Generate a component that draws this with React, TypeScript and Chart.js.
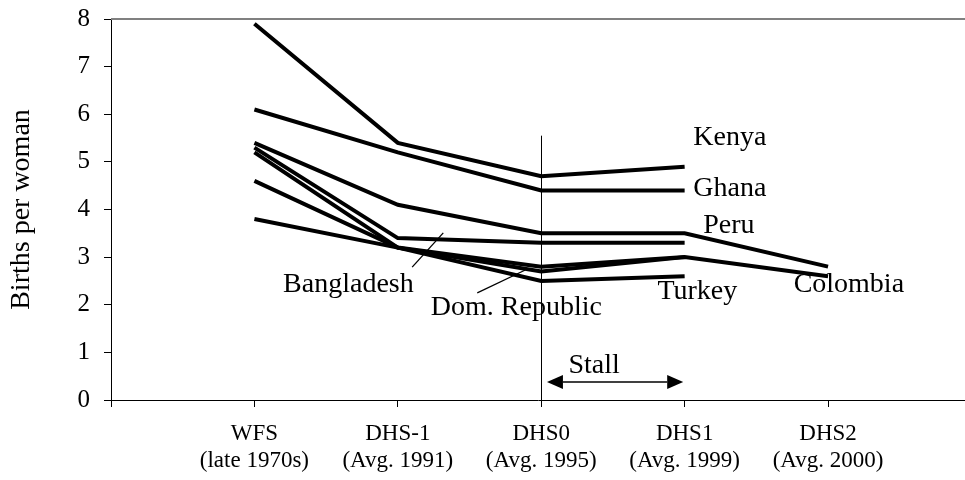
import React, { useEffect, useRef } from "react";
import { Chart, registerables } from "chart.js";

Chart.register(...registerables);

// ---- data ----
const categories = ["WFS", "DHS-1", "DHS0", "DHS1", "DHS2"];
const periods = ["(late 1970s)", "(Avg. 1991)", "(Avg. 1995)", "(Avg. 1999)", "(Avg. 2000)"];
const yTicks = [0, 1, 2, 3, 4, 5, 6, 7, 8];

const kenya = [7.9, 5.4, 4.7, 4.9, null];
const ghana = [6.1, 5.2, 4.4, 4.4, null];
const peru = [5.4, 4.1, 3.5, 3.5, 2.8];
const bangladesh = [5.3, 3.4, 3.3, 3.3, null];
const domRepublic = [5.2, 3.2, 2.7, 3.0, null];
const colombia = [4.6, 3.2, 2.8, 3.0, 2.6];
const turkey = [3.8, 3.2, 2.5, 2.6, null];

const seriesNames = ["Kenya", "Ghana", "Peru", "Bangladesh", "Dom. Republic", "Colombia", "Turkey"];
const seriesValues = [kenya, ghana, peru, bangladesh, domRepublic, colombia, turkey];

// ---- annotation layout (data coordinates) ----
const labelTexts = ["Kenya", "Ghana", "Peru", "Colombia", "Turkey", "Bangladesh", "Dom. Republic", "Stall"];
const labelX = [4.06, 4.06, 4.13, 4.76, 3.81, 1.2, 2.23, 3.19];
const labelY = [5.36, 4.29, 3.51, 2.27, 2.12, 2.27, 1.79, 0.57];
const pointers = [
  [2.1, 2.79, 2.317, 3.51],
  [2.554, 2.25, 2.889, 2.73],
];
const stallLine = { x: 3, yTop: 5.55 };
const stallArrow = { x1: 3.04, x2: 3.99, y: 0.38 };
const X_MAX = 5.955;

const FONT = '"Liberation Serif", "Times New Roman", serif';

const annotationPlugin = {
  id: "annotations",
  afterDatasetsDraw(chart: any) {
    const { ctx, scales, chartArea } = chart;
    const xs = scales.x;
    const ys = scales.y;
    ctx.save();
    // top border
    ctx.strokeStyle = "#808080";
    ctx.lineWidth = 2;
    ctx.beginPath();
    ctx.moveTo(chartArea.left, chartArea.top);
    ctx.lineTo(chartArea.right, chartArea.top);
    ctx.stroke();

    ctx.strokeStyle = "#000";
    // vertical line at DHS0
    ctx.lineWidth = 1;
    ctx.beginPath();
    const vx = Math.round(xs.getPixelForValue(stallLine.x)) + 0.5;
    ctx.moveTo(vx, ys.getPixelForValue(stallLine.yTop));
    ctx.lineTo(vx, ys.getPixelForValue(0));
    ctx.stroke();

    // pointer lines
    ctx.lineWidth = 1.3;
    pointers.forEach((p) => {
      ctx.beginPath();
      ctx.moveTo(xs.getPixelForValue(p[0]), ys.getPixelForValue(p[1]));
      ctx.lineTo(xs.getPixelForValue(p[2]), ys.getPixelForValue(p[3]));
      ctx.stroke();
    });

    // stall arrow
    const ax1 = xs.getPixelForValue(stallArrow.x1);
    const ax2 = xs.getPixelForValue(stallArrow.x2);
    const ay = ys.getPixelForValue(stallArrow.y);
    const hl = 16;
    const hw = 7;
    ctx.lineWidth = 1.5;
    ctx.beginPath();
    ctx.moveTo(ax1 + hl, ay);
    ctx.lineTo(ax2 - hl, ay);
    ctx.stroke();
    ctx.fillStyle = "#000";
    ctx.beginPath();
    ctx.moveTo(ax1, ay);
    ctx.lineTo(ax1 + hl, ay - hw);
    ctx.lineTo(ax1 + hl, ay + hw);
    ctx.closePath();
    ctx.fill();
    ctx.beginPath();
    ctx.moveTo(ax2, ay);
    ctx.lineTo(ax2 - hl, ay - hw);
    ctx.lineTo(ax2 - hl, ay + hw);
    ctx.closePath();
    ctx.fill();

    // text labels
    ctx.font = `28px ${FONT}`;
    ctx.textAlign = "left";
    ctx.textBaseline = "alphabetic";
    labelTexts.forEach((t, i) => {
      ctx.fillText(t, xs.getPixelForValue(labelX[i]), ys.getPixelForValue(labelY[i]));
    });
    ctx.restore();
  },
};

export default function App() {
  const ref = useRef<HTMLCanvasElement>(null);
  useEffect(() => {
    if (!ref.current) return;
    const datasets = seriesValues.map((vals, si) => ({
      label: seriesNames[si],
      data: vals
        .map((v, i) => (v === null ? null : { x: i + 1, y: v }))
        .filter((p) => p !== null),
      borderColor: "#000",
      backgroundColor: "#000",
      borderWidth: 4,
      pointRadius: 0,
      fill: false,
      tension: 0,
    }));
    const chart = new Chart(ref.current, {
      type: "line",
      data: { datasets } as any,
      options: {
        animation: false,
        responsive: false,
        maintainAspectRatio: false,
        layout: { padding: { top: 19, right: 0, left: 0, bottom: 0 } },
        plugins: { legend: { display: false }, tooltip: { enabled: false } },
        scales: {
          x: {
            type: "linear",
            min: 0,
            max: X_MAX,
            afterBuildTicks: (s: any) => {
              s.ticks = [0, 1, 2, 3, 4, 5].map((v) => ({ value: v }));
            },
            afterFit: (s: any) => {
              s.height = 80;
              s.paddingLeft = 0;
              s.paddingRight = 0;
            },
            grid: { drawOnChartArea: false, drawTicks: true, tickLength: 7, color: "#000" },
            border: { display: true, color: "#000", width: 1 },
            ticks: {
              color: "#000",
              font: { family: FONT, size: 23, lineHeight: 1.2 },
              padding: 13,
              maxRotation: 0,
              autoSkip: false,
              callback: (v: any) => {
                const n = Number(v);
                return n >= 1 && n <= 5 ? [categories[n - 1], periods[n - 1]] : "";
              },
            },
          },
          y: {
            min: 0,
            max: 8,
            afterBuildTicks: (s: any) => {
              s.ticks = yTicks.map((v) => ({ value: v }));
            },
            afterFit: (s: any) => {
              s.width = 111;
              s.paddingTop = 0;
              s.paddingBottom = 0;
            },
            grid: { drawOnChartArea: false, drawTicks: true, tickLength: 7, color: "#000" },
            border: { display: true, color: "#000", width: 1 },
            ticks: {
              color: "#000",
              font: { family: FONT, size: 25 },
              padding: 14,
            },
            title: {
              display: true,
              text: "Births per woman",
              color: "#000",
              font: { family: FONT, size: 28, lineHeight: 1 },
              padding: { top: 8, bottom: 0 },
            },
          },
        },
      } as any,
      plugins: [annotationPlugin],
    });
    return () => chart.destroy();
  }, []);
  return (
    <div style={{ position: "fixed", left: 0, top: 0, width: 965, height: 480, background: "#fff" }}>
      <canvas ref={ref} width={965} height={480} style={{ width: 965, height: 480, display: "block" }} />
    </div>
  );
}
